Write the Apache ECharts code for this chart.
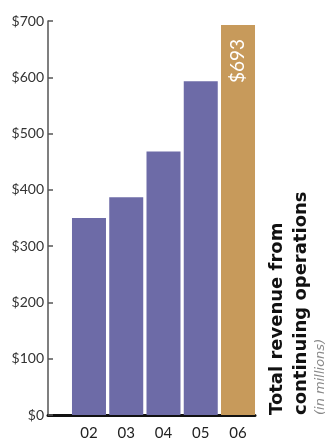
<!DOCTYPE html>
<html>
<head>
<meta charset="utf-8">
<script src="https://cdn.jsdelivr.net/npm/echarts@6/dist/echarts.min.js"></script>
<style>
  html, body { margin: 0; padding: 0; background: #fff; }
  #main { width: 331px; height: 442px; }
</style>
</head>
<body>
<div id="main"></div>
<script>
// chart data
const years = ['02', '03', '04', '05', '06'];
const revenue = [350, 387, 468, 593, 693];

const purple = '#6d6ba7';
const gold = '#c79a5b';
const font = 'Lato';
const titleFont = 'DejaVu Sans';

const chart = echarts.init(document.getElementById('main'));

let barData = years.map((y, i) => {
  let last = i === years.length - 1;
  return {
    value: [parseInt(y, 10), revenue[i]],
    itemStyle: { color: last ? gold : purple },
    label: last ? {
      show: true,
      formatter: '$' + revenue[i],
      rotate: 90,
      position: [17, 14],
      align: 'right',
      verticalAlign: 'middle',
      color: '#fff',
      fontSize: 19,
      fontFamily: font
    } : { show: false }
  };
});

chart.setOption({
  animation: false,
  grid: { left: 48, right: 76, top: 21, bottom: 27 },
  xAxis: {
    type: 'value',
    min: 0.9,
    max: 6.456,
    splitLine: { show: false },
    axisTick: { show: false },
    axisLine: { show: true, lineStyle: { color: '#111', width: 3 } },
    axisLabel: {
      customValues: years.map(y => parseInt(y, 10)),
      formatter: v => '0' + v,
      color: '#222',
      fontSize: 15,
      fontFamily: font,
      margin: 11
    }
  },
  yAxis: {
    type: 'value',
    min: 0,
    max: 700,
    interval: 100,
    splitLine: { show: false },
    axisLine: { show: true, lineStyle: { color: '#555', width: 1.5 } },
    axisTick: { show: true, inside: true, length: 5, lineStyle: { color: '#555', width: 1.5 } },
    axisLabel: {
      formatter: v => '$' + v,
      color: '#333',
      fontSize: 14,
      fontFamily: font,
      margin: 4
    }
  },
  graphic: [
    {
      type: 'text', x: 277, y: 415, rotation: Math.PI / 2,
      style: { text: 'Total revenue from', fontSize: 18, fontWeight: 'bold', fontFamily: titleFont,
        fill: '#111', textAlign: 'left', textVerticalAlign: 'middle' }
    },
    {
      type: 'text', x: 301, y: 415, rotation: Math.PI / 2,
      style: { text: 'continuing operations', fontSize: 18, fontWeight: 'bold', fontFamily: titleFont,
        fill: '#111', textAlign: 'left', textVerticalAlign: 'middle' }
    },
    {
      type: 'text', x: 321, y: 415, rotation: Math.PI / 2,
      style: { text: '(in millions)', fontSize: 13, fontStyle: 'italic', fontFamily: titleFont,
        fill: '#888', textAlign: 'left', textVerticalAlign: 'middle' }
    }
  ],
  series: [{
    type: 'bar',
    barWidth: 34,
    data: barData
  }]
});
</script>
</body>
</html>
